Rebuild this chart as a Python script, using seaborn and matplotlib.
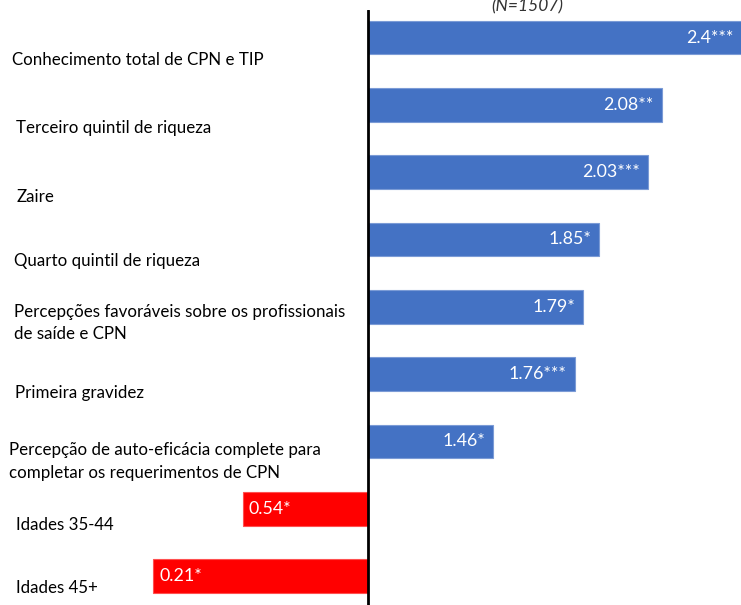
import numpy as np
import pandas as pd
import matplotlib
matplotlib.use("Agg")
import matplotlib.pyplot as plt
import seaborn as sns

# dados (razões de chances, N=1507)
categorias = [
    "Conhecimento total de CPN e TIP",
    "Terceiro quintil de riqueza",
    "Zaire",
    "Quarto quintil de riqueza",
    "Percepções favoráveis sobre os profissionais\nde saíde e CPN",
    "Primeira gravidez",
    "Percepção de auto-eficácia complete para\ncompletar os requerimentos de CPN",
    "Idades 35-44",
    "Idades 45+",
]
valores = [2.4, 2.08, 2.03, 1.85, 1.79, 1.76, 1.46, 0.54, 0.21]
signif = ["***", "**", "***", "*", "*", "***", "*", "*", "*"]

# deslocamento vertical dos rótulos (px) em relação ao centro da barra
desloc_rotulo = [22, 23, 25, 22, 16, 19, 20, 16, 12]
recuo_rotulo = [12, 16, 17, 14, 14, 15, 9, 16, 16]

sns.set_style("white")
plt.rcParams["font.family"] = ["Lato", "DejaVu Sans"]

df = pd.DataFrame({"cat": categorias, "or": valores})
df["desvio"] = df["or"] - 1  # barras partem de OR = 1
df["grupo"] = np.where(df["or"] >= 1, "pos", "neg")

fig = plt.figure(figsize=(7.41, 6.05), dpi=100)
ax = fig.add_axes([0, 0, 1, 595 / 605])

sns.barplot(data=df, x="desvio", y="cat", hue="grupo", orient="h",
            palette={"pos": "#4472C4", "neg": "#FF0000"}, width=0.5,
            dodge=False, legend=False, saturation=1, ax=ax)

for p in ax.patches:
    p.set_edgecolor("#7b9bd6" if p.get_facecolor()[0] < 0.5 else "#ff5050")
    p.set_linewidth(0.8)

ax.set_xlim(-1.353, 1.371)
ax.set_ylim(8.43, -0.409)
ax.axvline(0, color="black", lw=2)

# rótulos das categorias à esquerda
for i, (txt, off, rec) in enumerate(zip(categorias, desloc_rotulo, recuo_rotulo)):
    ax.annotate(txt, xy=(rec / 741, i), xycoords=("axes fraction", "data"),
                xytext=(0, -off), textcoords="offset pixels",
                ha="left", va="center", fontsize=12.2, color="black",
                linespacing=1.5)

# valores dentro das barras
xmax = ax.get_xlim()[1]
for i, (v, s) in enumerate(zip(valores, signif)):
    d = v - 1
    if d >= 0:
        ax.annotate(f"{v:g}{s}", xy=(min(d, xmax), i), xytext=(-8, 0),
                    textcoords="offset pixels", ha="right", va="center",
                    color="white", fontsize=12.8)
    else:
        ax.annotate(f"{v:g}{s}", xy=(d, i), xytext=(6, 0),
                    textcoords="offset pixels", ha="left", va="center",
                    color="white", fontsize=12.8)

fig.text(0.711, 0.989, "(N=1507)", style="italic", ha="center", va="center",
         fontsize=12.5, color="#333333")

ax.set_xlabel("")
ax.set_ylabel("")
ax.set_xticks([])
ax.set_yticks([])
sns.despine(ax=ax, left=True, bottom=True)

fig.savefig("out.png", dpi=100)
